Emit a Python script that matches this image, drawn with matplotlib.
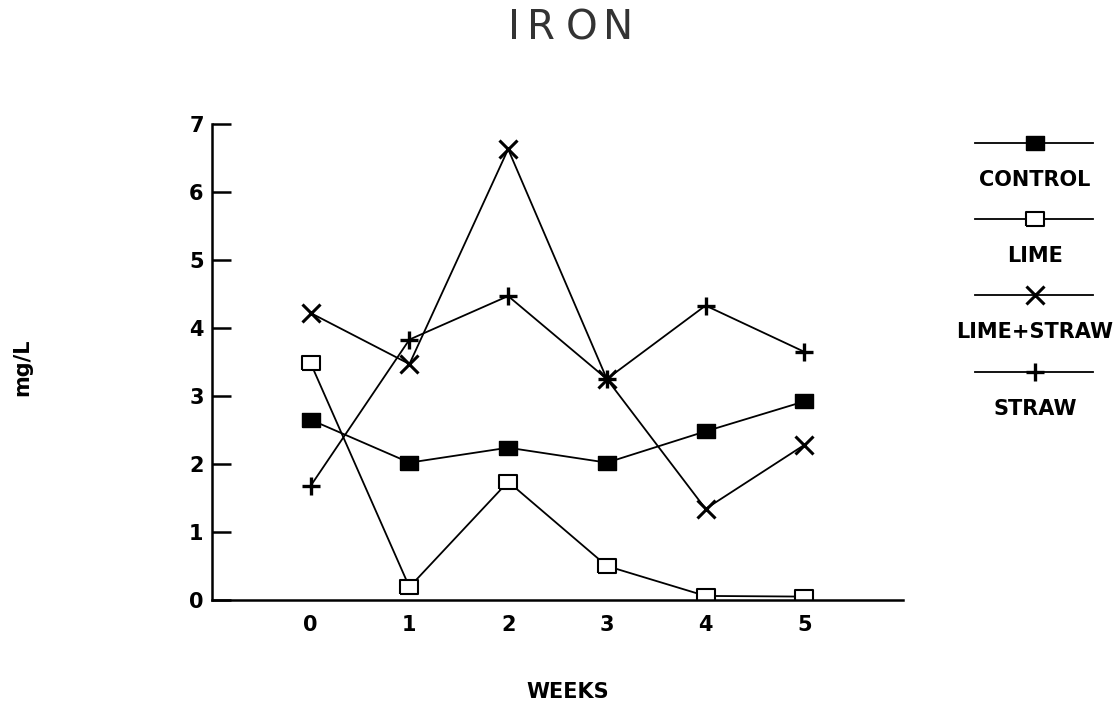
import numpy as np
import matplotlib
matplotlib.use("Agg")
import matplotlib.pyplot as plt

# data
weeks = [0, 1, 2, 3, 4, 5]
control = [2.65, 2.02, 2.24, 2.02, 2.48, 2.92]
lime = [3.48, 0.19, 1.74, 0.50, 0.06, 0.05]
lime_straw = [4.22, 3.47, 6.63, 3.25, 1.34, 2.28]
straw = [1.68, 3.83, 4.47, 3.25, 4.33, 3.65]
series_names = ["CONTROL", "LIME", "LIME+STRAW", "STRAW"]
y_ticks = [0, 1, 2, 3, 4, 5, 6, 7]
title = "IRON"

# slightly wide rectangle for the square markers
rect = [(-1, -0.78), (1, -0.78), (1, 0.78), (-1, 0.78), (-1, -0.78)]
styles = [
    dict(marker=rect, ms=13, mfc="black", mec="black", mew=1.0),
    dict(marker=rect, ms=13, mfc="white", mec="black", mew=1.5),
    dict(marker="x", ms=13, mfc="none", mec="black", mew=2.2),
    dict(marker="+", ms=13, mfc="none", mec="black", mew=2.4),
]
values = [control, lime, lime_straw, straw]

W, H = 1119, 706
fig = plt.figure(figsize=(W / 100, H / 100), dpi=100)
ax = fig.add_axes([212 / W, 1 - 600 / H, (903 - 212) / W, (600 - 124) / H])

for vals, st in zip(values, styles):
    ax.plot(weeks, vals, color="black", lw=1.3, **st)

ax.set_xlim(-1, 6)
ax.set_ylim(0, 7)
ax.set_xticks(weeks)
ax.set_yticks(y_ticks)
for s in ["top", "right"]:
    ax.spines[s].set_visible(False)
for s in ["left", "bottom"]:
    ax.spines[s].set_linewidth(1.8)
ax.tick_params(axis="y", direction="in", length=14, width=1.8, pad=6,
               labelsize=15)
ax.tick_params(axis="x", length=0, pad=11, labelsize=15)
for lab in ax.get_xticklabels() + ax.get_yticklabels():
    lab.set_fontweight("bold")

# title is letter-spaced in the original, so place the letters one by one
title_x = [514, 541, 582, 618]
for ch, tx in zip(title, title_x):
    fig.text(tx / W, 1 - 28 / H, ch, ha="center", va="center",
             fontsize=29, family="DejaVu Sans", color="#333333")
fig.text(568 / W, 1 - 692 / H, "WEEKS", ha="center", va="center",
         fontsize=15, fontweight="bold")
fig.text(22 / W, 1 - 367 / H, "mg/L", ha="center", va="center",
         rotation=90, fontsize=15, fontweight="bold")

# legend: sample line with a label centred underneath
lax = fig.add_axes([0, 0, 1, 1])
lax.set_xlim(0, W)
lax.set_ylim(H, 0)
lax.axis("off")
line_y = [143, 219, 295, 372]
for name, st, ly in zip(series_names, styles, line_y):
    lax.plot([975, 1093], [ly, ly], color="black", lw=1.3)
    lax.plot([1035], [ly], color="black", **st)
    lax.text(1035, ly + 37, name, ha="center", va="center",
             fontsize=15, fontweight="bold")

fig.savefig("out.png", dpi=100)
